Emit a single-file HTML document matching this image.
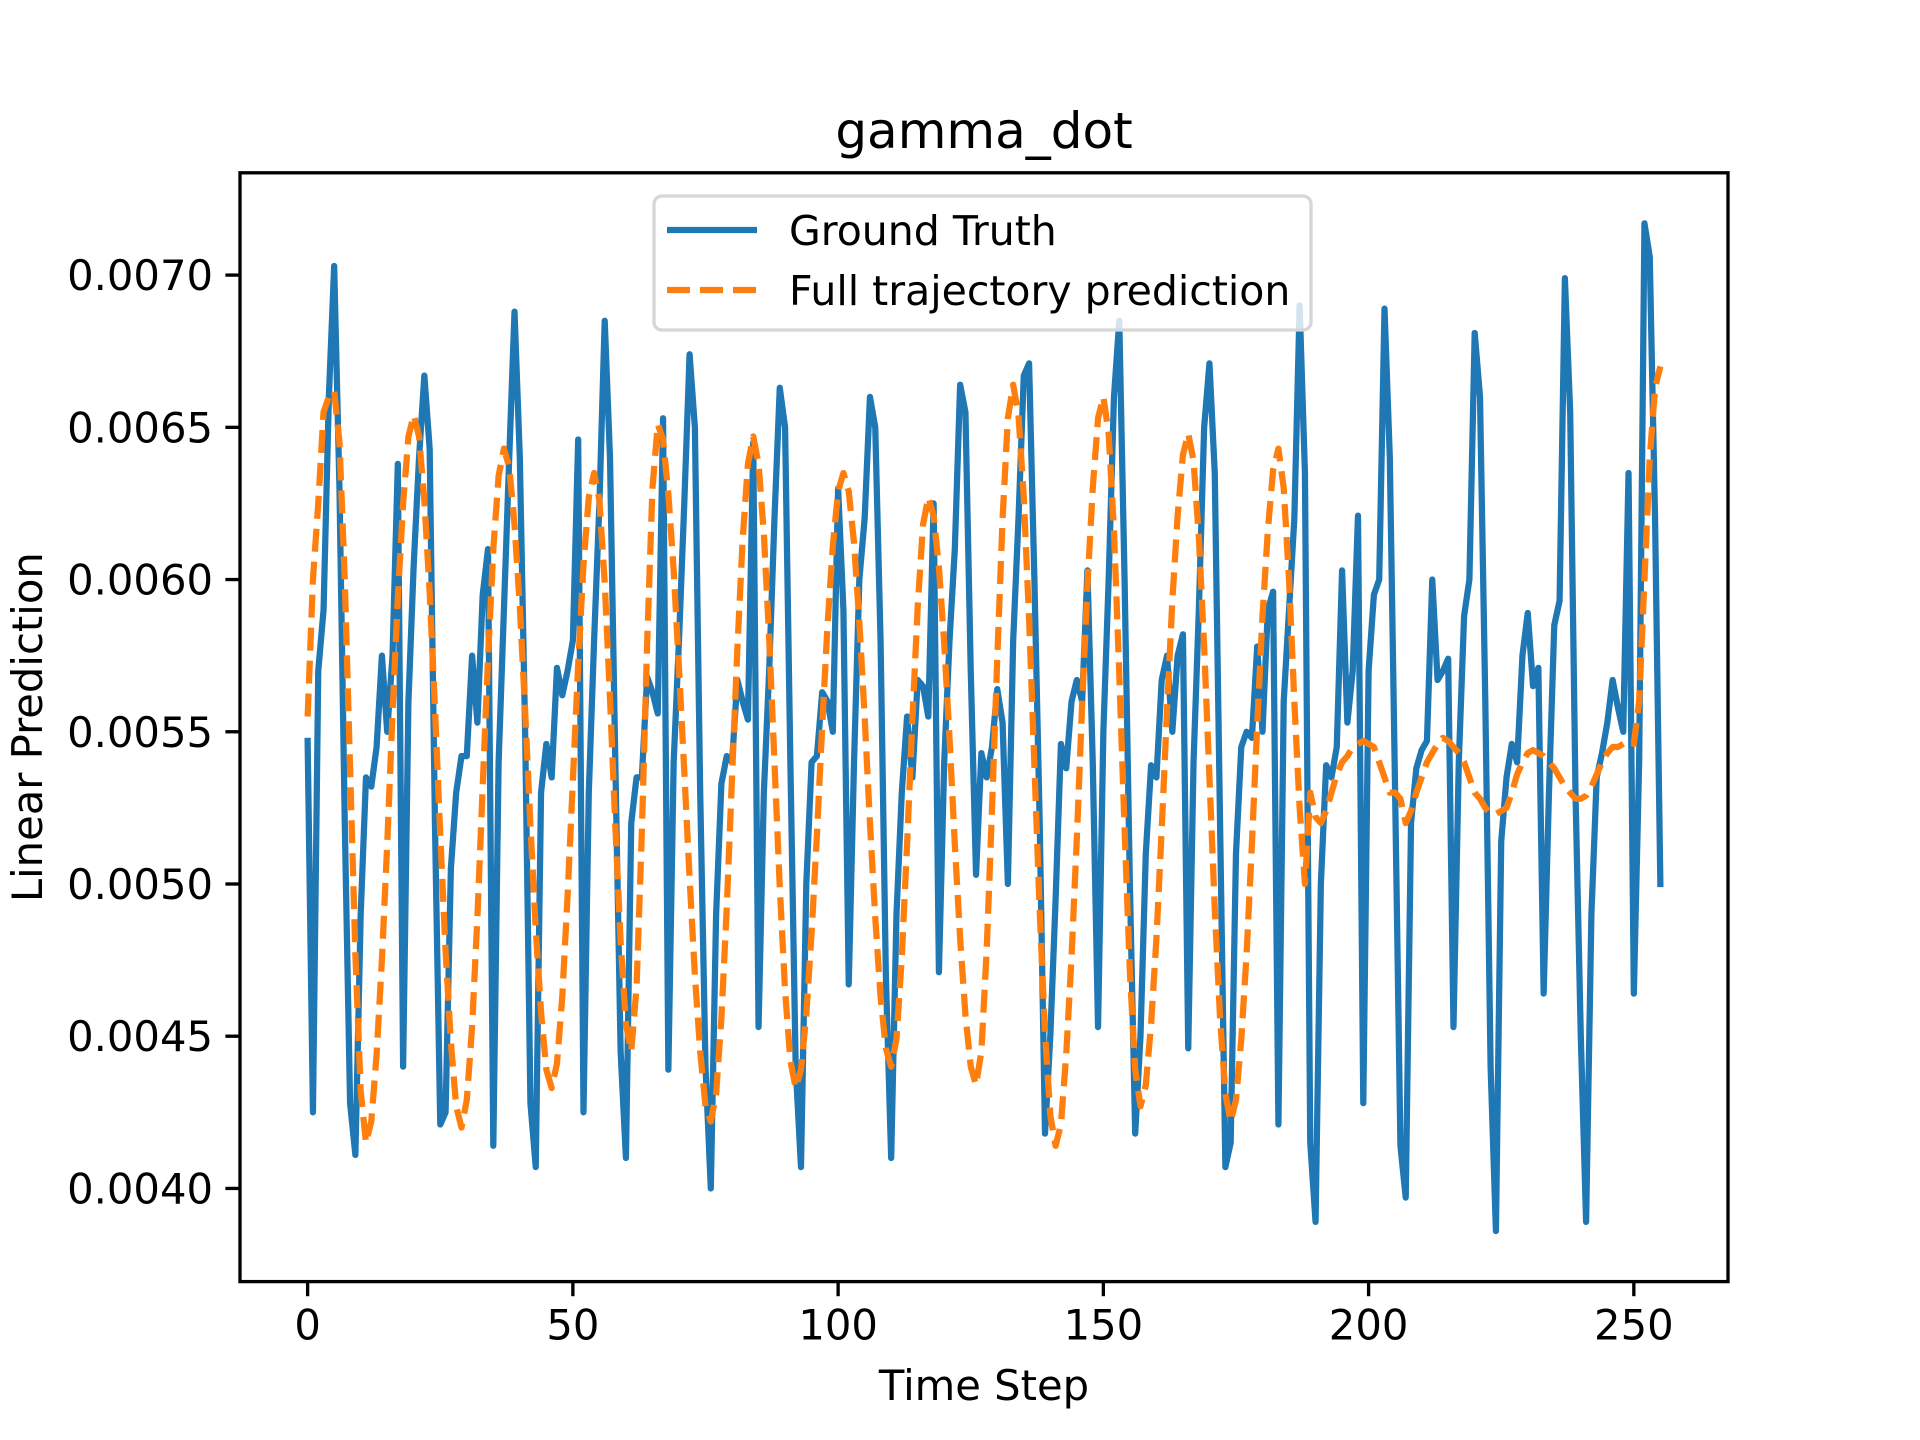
<!DOCTYPE html>
<html><head><meta charset="utf-8"><style>
html,body{margin:0;padding:0;background:#fff;}
svg{display:block;font-family:"DejaVu Sans","Liberation Sans",sans-serif;}
</style></head><body>
<svg id="chart" width="1920" height="1440" viewBox="0 0 1920 1440" xmlns="http://www.w3.org/2000/svg">
<rect x="0" y="0" width="1920" height="1440" fill="#fff"/>
<g id="plot"></g>
</svg>
<script>
const steps = Array.from({length:256},(_,i)=>i);
const groundTruth = [
0.00547,0.00425,0.00570,0.00590,0.00660,0.00703,0.00630,0.00520,0.00428,0.00411,
0.00490,0.00535,0.00532,0.00545,0.00575,0.00550,0.00575,0.00638,0.00440,0.00560,
0.00605,0.00640,0.00667,0.00643,0.00520,0.00421,0.00425,0.00505,0.00530,0.00542,
0.00542,0.00575,0.00553,0.00595,0.00610,0.00414,0.00540,0.00590,0.00640,0.00688,
0.00640,0.00550,0.00428,0.00407,0.00530,0.00546,0.00535,0.00571,0.00562,0.00570,
0.00580,0.00646,0.00425,0.00530,0.00580,0.00625,0.00685,0.00640,0.00540,0.00445,
0.00410,0.00520,0.00535,0.00535,0.00568,0.00563,0.00556,0.00653,0.00439,0.00540,
0.00580,0.00625,0.00674,0.00650,0.00530,0.00440,0.00400,0.00490,0.00533,0.00542,
0.00540,0.00567,0.00560,0.00554,0.00645,0.00453,0.00530,0.00570,0.00620,0.00663,
0.00650,0.00540,0.00440,0.00407,0.00500,0.00540,0.00542,0.00563,0.00560,0.00550,
0.00630,0.00590,0.00467,0.00540,0.00600,0.00620,0.00660,0.00650,0.00580,0.00470,
0.00410,0.00490,0.00530,0.00555,0.00535,0.00567,0.00565,0.00555,0.00625,0.00471,
0.00540,0.00580,0.00610,0.00664,0.00655,0.00570,0.00503,0.00543,0.00535,0.00545,
0.00564,0.00553,0.00500,0.00580,0.00620,0.00667,0.00671,0.00600,0.00520,0.00418,
0.00450,0.00495,0.00546,0.00538,0.00560,0.00567,0.00560,0.00603,0.00540,0.00453,
0.00550,0.00600,0.00660,0.00685,0.00600,0.00500,0.00418,0.00450,0.00510,0.00539,
0.00535,0.00567,0.00575,0.00550,0.00575,0.00582,0.00446,0.00540,0.00590,0.00650,
0.00671,0.00635,0.00520,0.00407,0.00415,0.00510,0.00545,0.00550,0.00548,0.00578,
0.00550,0.00590,0.00596,0.00421,0.00560,0.00590,0.00620,0.00690,0.00635,0.00415,
0.00389,0.00500,0.00539,0.00535,0.00545,0.00603,0.00553,0.00570,0.00621,0.00428,
0.00570,0.00595,0.00600,0.00689,0.00640,0.00530,0.00414,0.00397,0.00520,0.00538,
0.00544,0.00547,0.00600,0.00567,0.00570,0.00574,0.00453,0.00540,0.00588,0.00600,
0.00681,0.00660,0.00560,0.00440,0.00386,0.00514,0.00535,0.00546,0.00540,0.00575,
0.00589,0.00565,0.00571,0.00464,0.00530,0.00585,0.00593,0.00699,0.00655,0.00530,
0.00450,0.00389,0.00490,0.00535,0.00543,0.00553,0.00567,0.00558,0.00550,0.00635,
0.00464,0.00540,0.00717,0.00706,0.00620,0.00500];
const prediction = [
0.00555,0.00600,0.00625,0.00655,0.00660,0.00662,0.00645,0.00600,0.00538,0.00477,
0.00432,0.00415,0.00422,0.00444,0.00475,0.00513,0.00556,0.00594,0.00625,0.00647,
0.00654,0.00647,0.00626,0.00596,0.00558,0.00516,0.00478,0.00448,0.00427,0.00420,
0.00429,0.00453,0.00489,0.00532,0.00574,0.00610,0.00634,0.00643,0.00637,0.00618,
0.00591,0.00557,0.00519,0.00485,0.00458,0.00439,0.00433,0.00441,0.00463,0.00496,
0.00534,0.00572,0.00605,0.00627,0.00635,0.00626,0.00599,0.00561,0.00519,0.00481,
0.00454,0.00445,0.00466,0.00517,0.00579,0.00630,0.00651,0.00646,0.00628,0.00603,
0.00571,0.00537,0.00502,0.00470,0.00445,0.00427,0.00422,0.00431,0.00456,0.00492,
0.00535,0.00577,0.00613,0.00638,0.00647,0.00638,0.00615,0.00581,0.00540,0.00499,
0.00465,0.00442,0.00433,0.00439,0.00457,0.00484,0.00516,0.00552,0.00585,0.00611,
0.00629,0.00635,0.00629,0.00612,0.00586,0.00555,0.00520,0.00489,0.00463,0.00446,
0.00440,0.00449,0.00476,0.00513,0.00554,0.00591,0.00618,0.00627,0.00621,0.00604,
0.00579,0.00548,0.00513,0.00482,0.00457,0.00440,0.00434,0.00445,0.00478,0.00524,
0.00574,0.00620,0.00653,0.00664,0.00654,0.00627,0.00587,0.00539,0.00491,0.00451,
0.00424,0.00414,0.00421,0.00444,0.00476,0.00515,0.00559,0.00598,0.00630,0.00653,
0.00660,0.00648,0.00616,0.00569,0.00518,0.00471,0.00439,0.00427,0.00434,0.00454,
0.00482,0.00518,0.00557,0.00593,0.00621,0.00641,0.00648,0.00639,0.00614,0.00578,
0.00535,0.00492,0.00456,0.00431,0.00422,0.00429,0.00449,0.00477,0.00513,0.00552,
0.00588,0.00616,0.00636,0.00643,0.00630,0.00600,0.00560,0.00525,0.00500,0.00530,
0.00522,0.00520,0.00524,0.00530,0.00536,0.00540,0.00542,0.00545,0.00546,0.00547,
0.00546,0.00545,0.00540,0.00535,0.00530,0.00530,0.00528,0.00520,0.00524,0.00530,
0.00535,0.00540,0.00543,0.00546,0.00548,0.00547,0.00545,0.00543,0.00540,0.00535,
0.00530,0.00528,0.00525,0.00523,0.00523,0.00524,0.00525,0.00530,0.00536,0.00540,
0.00543,0.00544,0.00543,0.00542,0.00540,0.00538,0.00535,0.00532,0.00530,0.00528,
0.00528,0.00529,0.00532,0.00536,0.00540,0.00543,0.00545,0.00545,0.00546,0.00547,
0.00546,0.00560,0.00600,0.00640,0.00663,0.00670];
const xTicks = [0,50,100,150,200,250];
const yTicks = [0.0040,0.0045,0.0050,0.0055,0.0060,0.0065,0.0070];
const yTickLabels = ["0.0040","0.0045","0.0050","0.0055","0.0060","0.0065","0.0070"];

const L=240,R=1728,T=172.8,B=1281.6;
const xmin=-12.75,xmax=267.75,ymin=0.003694,ymax=0.007336;
const sx=v=>L+(v-xmin)/(xmax-xmin)*(R-L);
const sy=v=>B-(v-ymin)/(ymax-ymin)*(B-T);
const NS="http://www.w3.org/2000/svg";
const g=document.getElementById('plot');
function mk(tag,attrs,parent){const e=document.createElementNS(NS,tag);for(const k in attrs)e.setAttribute(k,attrs[k]);(parent||g).appendChild(e);return e;}

let d1=groundTruth.map((v,i)=>(i?'L':'M')+sx(steps[i]).toFixed(2)+' '+sy(v).toFixed(2)).join('');
const gt=mk('path',{d:d1,fill:'none',stroke:'#1f77b4','stroke-width':6.25,'stroke-linejoin':'round','stroke-linecap':'square'});


let d2=prediction.map((v,i)=>(i?'L':'M')+sx(steps[i]).toFixed(2)+' '+sy(v).toFixed(2)).join('');
const pr=mk('path',{d:d2,fill:'none',stroke:'#ff7f0e','stroke-width':6.25,'stroke-dasharray':'23 10','stroke-linejoin':'round'});



const fr=mk('rect',{x:L,y:T,width:R-L,height:B-T,fill:'none',stroke:'#000','stroke-width':3.33});



xTicks.forEach(v=>{
  const x=sx(v);
  const t=mk('line',{x1:x,x2:x,y1:B,y2:B+14.6,stroke:'#000','stroke-width':3.33});
  
  
  const tx=mk('text',{x:x,y:B+58,'font-size':41.7,'text-anchor':'middle',fill:'#000'});
  tx.textContent=String(v);
  
  
});
yTicks.forEach((v,i)=>{
  const y=sy(v);
  const t=mk('line',{x1:L-14.6,x2:L,y1:y,y2:y,stroke:'#000','stroke-width':3.33});
  
  
  const tx=mk('text',{x:L-27,y:y+15,'font-size':41.7,'text-anchor':'end',fill:'#000'});
  tx.textContent=yTickLabels[i];
  
  
});

const title=mk('text',{x:(L+R)/2,y:148,'font-size':50,'text-anchor':'middle',fill:'#000'});
title.textContent='gamma_dot';


const xl=mk('text',{x:(L+R)/2,y:1400,'font-size':41.7,'text-anchor':'middle',fill:'#000'});
xl.textContent='Time Step';


const yl=mk('text',{x:0,y:0,'font-size':41.7,'text-anchor':'middle',fill:'#000',transform:'translate(42 '+((T+B)/2)+') rotate(-90)'});
yl.textContent='Linear Prediction';



const lg=mk('g',{});


mk('rect',{x:654,y:196,width:657,height:134,rx:8,fill:'#fff','fill-opacity':0.8,stroke:'#d6d6d6','stroke-width':3.33},lg);
const l1=mk('line',{x1:667,x2:757,y1:230,y2:230,stroke:'#1f77b4','stroke-width':6.25},lg);


const t1=mk('text',{x:789,y:245,'font-size':41,fill:'#000'},lg);
t1.textContent='Ground Truth';


const l2=mk('line',{x1:667,x2:757,y1:290,y2:290,stroke:'#ff7f0e','stroke-width':6.25,'stroke-dasharray':'23 10'},lg);


const t2=mk('text',{x:789,y:305,'font-size':41,fill:'#000'},lg);
t2.textContent='Full trajectory prediction';


</script>
</body></html>
